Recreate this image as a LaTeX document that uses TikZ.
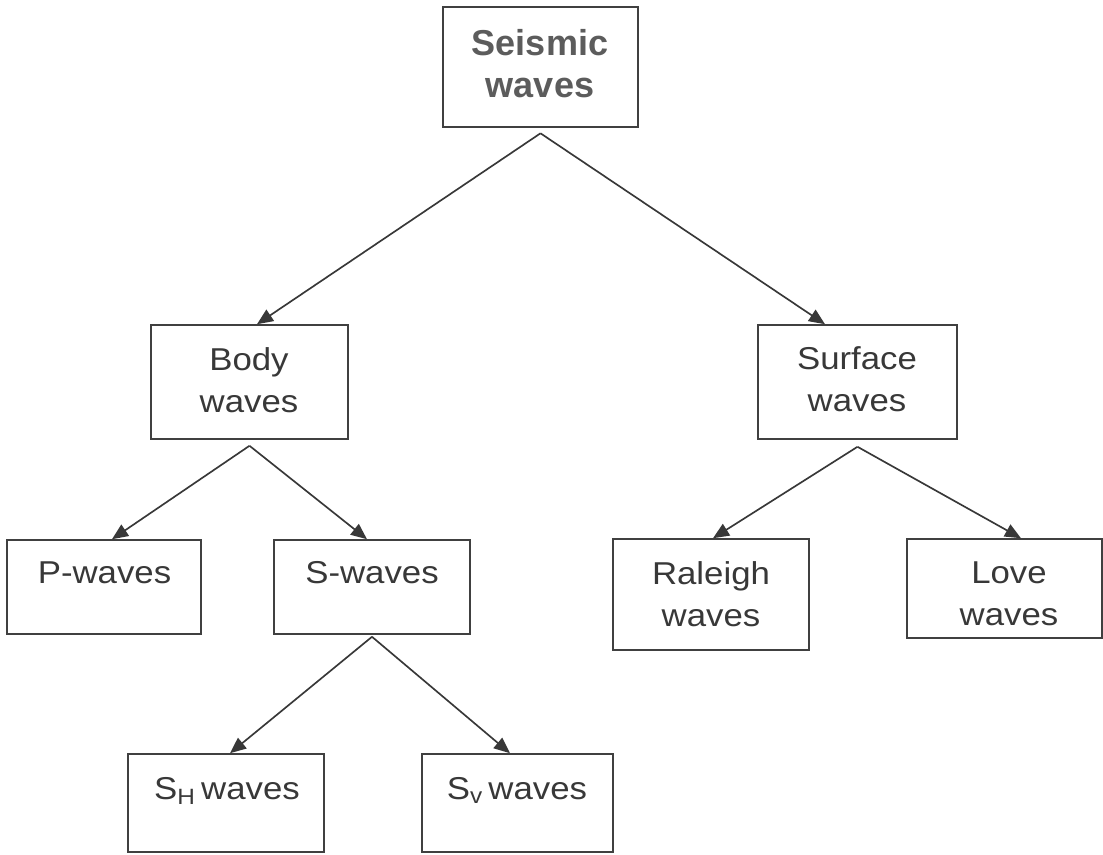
\documentclass[tikz,border=0pt]{standalone}
\usepackage{fontspec}
\setmainfont[FakeStretch=1.1]{Liberation Sans}
\newfontfamily\headfont{Liberation Sans}
\usepackage{xcolor}
\usepackage{tikz}
\usetikzlibrary{arrows.meta,positioning}
\definecolor{inkgray}{gray}{0.22}
\definecolor{headgray}{gray}{0.36}
\definecolor{framegray}{gray}{0.25}
\tikzset{
  wbox/.style={draw=framegray,line width=0.9pt,inner sep=0pt,minimum width=3.92cm},
  topbox/.style={wbox,line width=1.5pt},
  wlab/.style={inner sep=0pt,anchor=north,align=center,text=inkgray,font=\fontsize{18}{24}\selectfont},
  headlab/.style={wlab,text=headgray,font=\headfont\bfseries\fontsize{20.5}{24}\selectfont},
  link/.style={draw=inkgray,line width=0.95pt,-{Triangle[length=0.32cm,width=0.27cm]}},
}
\begin{document}
\begin{tikzpicture}[x=0.02cm,y=-0.02cm]
  \useasboundingbox (0,0) rectangle (1103,855);
  % top
  \node[topbox,minimum width=3.9cm,minimum height=2.4cm] (seis) at (540.5,67) {};
  \node[headlab] (seist) at (540,29) {Seismic\\waves};
  % second row
  \node[wbox,minimum width=3.94cm,minimum height=2.28cm] (body) at (249.5,382) {};
  \node[wlab] (bodyt) at (249,347) {Body\\waves};
  \node[wbox,minimum width=3.98cm,minimum height=2.28cm] (surf) at (857.5,382) {};
  \node[wlab] (surft) at (857,346) {Surface\\waves};
  % third row
  \node[wbox,minimum width=3.88cm,minimum height=1.88cm] (pw) at (104,587) {};
  \node[wlab] (pwt) at (104.5,561) {P-waves};
  \node[wbox,minimum height=1.88cm] (sw) at (372,587) {};
  \node[wlab] (swt) at (372,561) {S-waves};
  \node[wbox,minimum height=2.22cm] (ra) at (711,594.5) {};
  \node[wlab] (rat) at (711,561) {Raleigh\\waves};
  \node[wbox,minimum width=3.9cm,minimum height=1.98cm] (lo) at (1004.5,588.5) {};
  \node[wlab] (lot) at (1009,561) {Love\\waves};
  % S-wave split
  \node[wbox,minimum height=1.96cm] (sh) at (226,803) {};
  \node[wlab] (sht) at (227,777) {S\textsubscript{H}\,waves};
  \node[wbox,minimum width=3.82cm,minimum height=1.96cm] (sv) at (517.5,803) {};
  \node[wlab] (svt) at (517,777) {S\textsubscript{v}\,waves};
  % arrows
  \draw[link] ([yshift=-0.1cm]seis.south) -- ([xshift=0.15cm]body.north);
  \draw[link] ([yshift=-0.1cm]seis.south) -- ([xshift=-0.65cm]surf.north);
  \draw[link] ([yshift=-0.12cm]body.south) -- ([xshift=0.16cm]pw.north);
  \draw[link] ([yshift=-0.12cm]body.south) -- ([xshift=-0.1cm]sw.north);
  \draw[link] ([yshift=-0.14cm]surf.south) -- ([xshift=0.04cm]ra.north);
  \draw[link] ([yshift=-0.14cm]surf.south) -- ([xshift=0.33cm]lo.north);
  \draw[link] ([yshift=-0.04cm]sw.south) -- ([xshift=0.08cm]sh.north);
  \draw[link] ([yshift=-0.04cm]sw.south) -- ([xshift=-0.15cm]sv.north);
\end{tikzpicture}
\end{document}
